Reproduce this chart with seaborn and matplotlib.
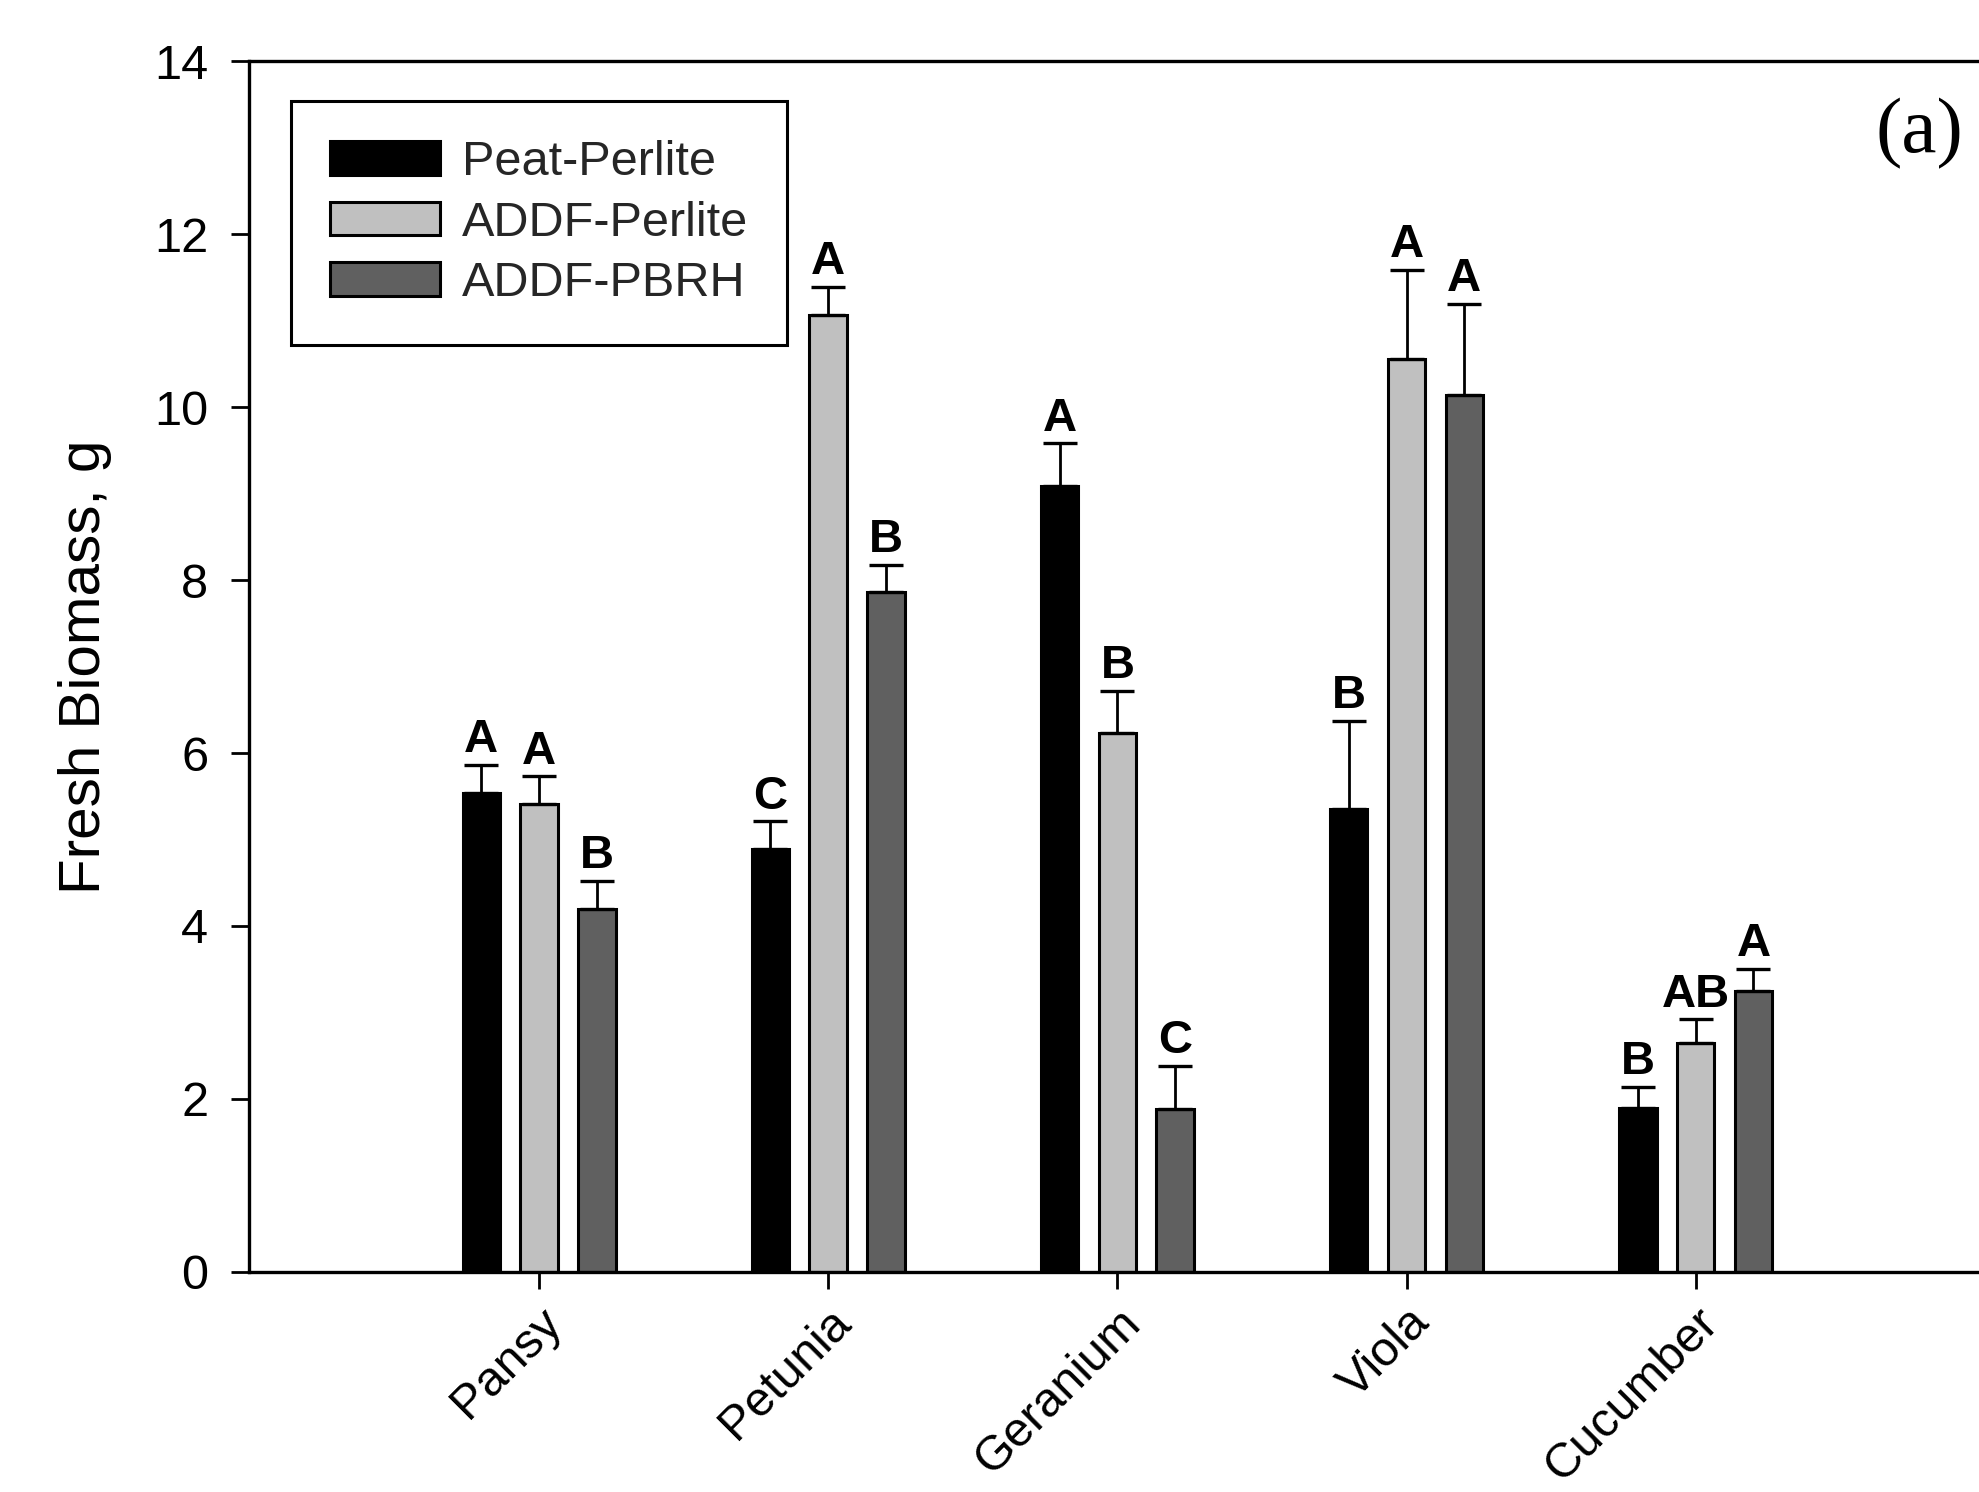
import numpy as np
import pandas as pd
import matplotlib
matplotlib.use("Agg")
import matplotlib.pyplot as plt
import seaborn as sns

# ---------------- data ----------------
plants = ["Pansy", "Petunia", "Geranium", "Viola", "Cucumber"]
media = ["Peat-Perlite", "ADDF-Perlite", "ADDF-PBRH"]

peat_perlite = [5.54, 4.89, 9.09, 5.35, 1.90]
addf_perlite = [5.41, 11.07, 6.23, 10.56, 2.65]
addf_pbrh = [4.20, 7.86, 1.88, 10.14, 3.25]

peat_perlite_err = [0.32, 0.32, 0.49, 1.02, 0.24]
addf_perlite_err = [0.32, 0.32, 0.49, 1.03, 0.27]
addf_pbrh_err = [0.32, 0.32, 0.50, 1.05, 0.25]

peat_perlite_letters = ["A", "C", "A", "B", "B"]
addf_perlite_letters = ["A", "A", "B", "A", "AB"]
addf_pbrh_letters = ["B", "B", "C", "A", "A"]

colors = ["#000000", "#c0c0c0", "#606060"]

y_ticks = [0, 2, 4, 6, 8, 10, 12, 14]
y_label = "Fresh Biomass, g"
panel_label = "(a)"

# ---------------- frame ----------------
values = [peat_perlite, addf_perlite, addf_pbrh]
errors = [peat_perlite_err, addf_perlite_err, addf_pbrh_err]
letters = [peat_perlite_letters, addf_perlite_letters, addf_pbrh_letters]

rows = []
for m, vals in zip(media, values):
    for p, v in zip(plants, vals):
        rows.append({"plant": p, "medium": m, "value": v})
df = pd.DataFrame(rows)

sns.set_theme(style="ticks")
plt.rcParams["font.family"] = ["Liberation Sans", "DejaVu Sans"]

fig = plt.figure(figsize=(19.79, 14.92), dpi=100)
ax = fig.add_axes([0.1256, 0.1475, 0.8744, 0.8115])

sns.barplot(data=df, x="plant", y="value", hue="medium", order=plants,
            hue_order=media, palette=colors, width=0.6, gap=0.35,
            edgecolor="black", linewidth=2.2, errorbar=None, legend=False,
            saturation=1, ax=ax)

for cont, errs, labs in zip(ax.containers, errors, letters):
    xs = [b.get_x() + b.get_width() / 2 for b in cont]
    hs = [b.get_height() for b in cont]
    ax.errorbar(xs, hs, yerr=[np.zeros(len(errs)), errs], fmt="none",
                ecolor="black", elinewidth=2.0, capsize=12.5, capthick=2.4,
                zorder=3)
    for x, h, e, t in zip(xs, hs, errs, labs):
        ax.annotate(t, (x, h + e), xytext=(0, 2), textcoords="offset points",
                    ha="center", va="bottom", fontsize=34, fontweight="bold",
                    color="black")

ax.set_xlim(-1.005, 4.98)
ax.set_ylim(0, 14)
ax.set_yticks(y_ticks)
ax.set_yticklabels([str(t) for t in y_ticks])
ax.set_xlabel("")
ax.set_ylabel(y_label, fontsize=42, labelpad=30, color="black")

ax.tick_params(axis="y", direction="out", length=13, width=2, labelsize=35,
               pad=16, colors="black")
ax.tick_params(axis="x", direction="out", length=12, width=2, labelsize=35,
               pad=8, colors="black")
for lab in ax.get_xticklabels():
    lab.set_rotation(45)
    lab.set_ha("right")
    lab.set_va("top")
    lab.set_rotation_mode("anchor")

for side in ["left", "bottom", "top"]:
    ax.spines[side].set_visible(True)
    ax.spines[side].set_linewidth(2.4)
    ax.spines[side].set_color("black")
ax.spines["right"].set_visible(False)

leg = ax.legend(handles=list(ax.containers), labels=media, loc="upper left",
                bbox_to_anchor=(0.0248, 0.967), borderaxespad=0,
                fontsize=35, frameon=True, fancybox=False, framealpha=1,
                edgecolor="black", handlelength=2.25, handleheight=0.68,
                handletextpad=0.45, labelspacing=0.32, borderpad=0.8)
leg.get_frame().set_linewidth(2.2)

ax.text(0.991, 0.94, panel_label, transform=ax.transAxes, ha="right",
        va="center", fontsize=57, family=["Liberation Serif", "DejaVu Serif"],
        color="black")

fig.savefig("out.png", dpi=100)
